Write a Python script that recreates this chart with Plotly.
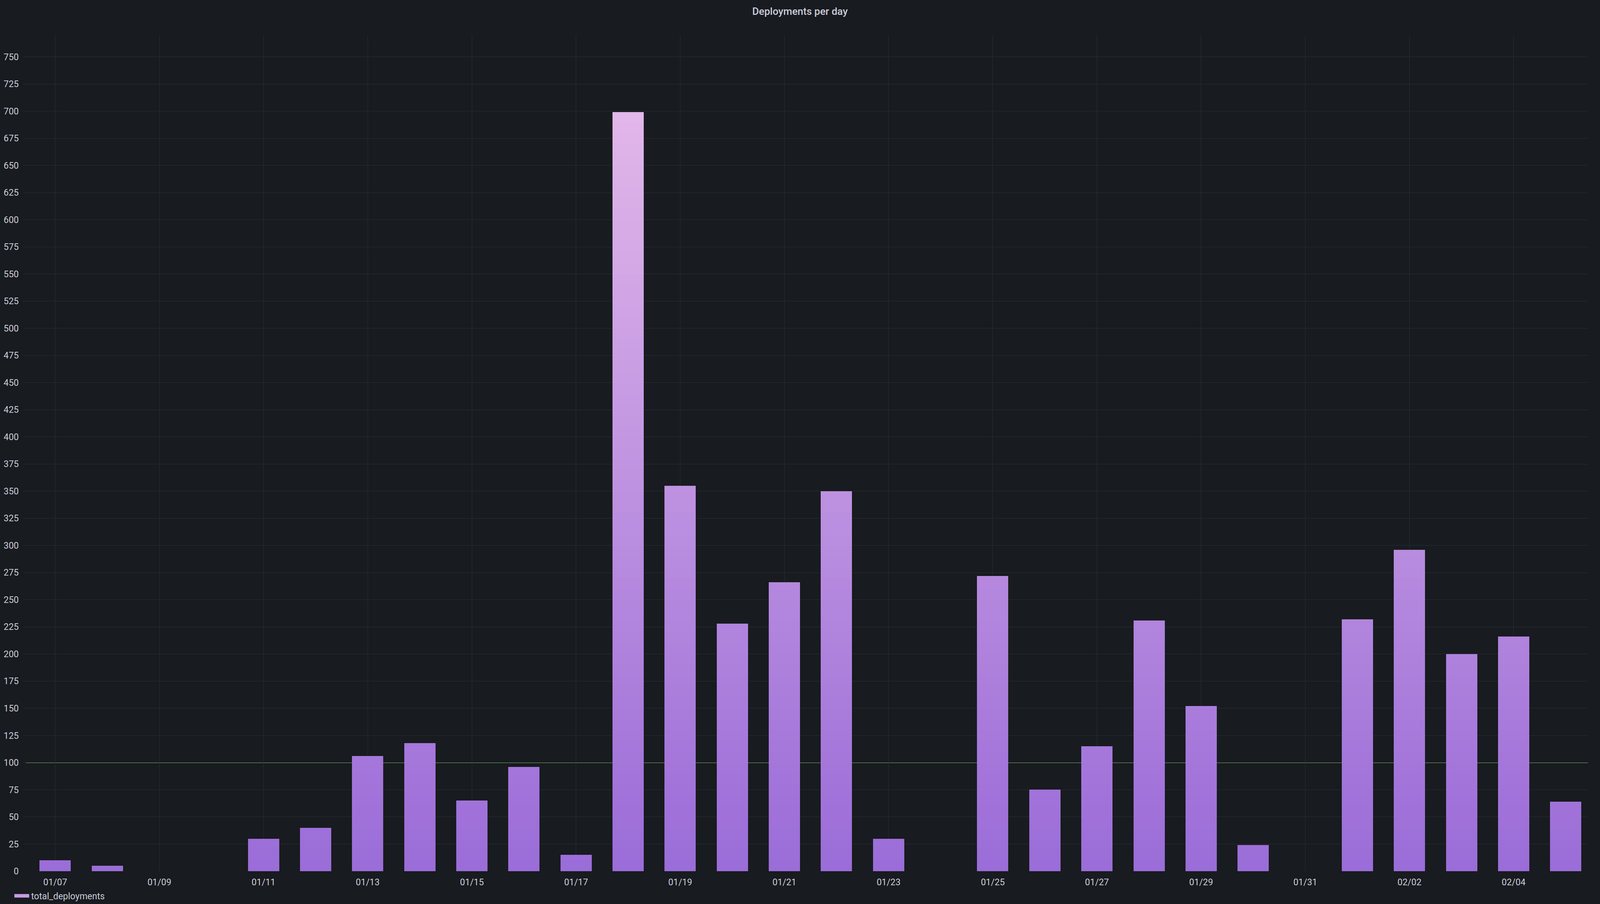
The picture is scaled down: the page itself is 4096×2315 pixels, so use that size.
import pandas as pd
import plotly.graph_objects as go

# ---- data ----
DAYS = ["2025-01-07", "2025-01-08", "2025-01-09", "2025-01-10", "2025-01-11",
        "2025-01-12", "2025-01-13", "2025-01-14", "2025-01-15", "2025-01-16",
        "2025-01-17", "2025-01-18", "2025-01-19", "2025-01-20", "2025-01-21",
        "2025-01-22", "2025-01-23", "2025-01-24", "2025-01-25", "2025-01-26",
        "2025-01-27", "2025-01-28", "2025-01-29", "2025-01-30", "2025-01-31",
        "2025-02-01", "2025-02-02", "2025-02-03", "2025-02-04", "2025-02-05"]
TOTAL_DEPLOYMENTS = [10, 5, 0, 0, 30, 40, 106, 118, 65, 96,
                     15, 699, 355, 228, 266, 350, 30, 0, 272, 75,
                     115, 231, 152, 24, 0, 232, 296, 200, 216, 64]
SERIES_NAME = "total_deployments"
THRESHOLD = 100
TITLE = "Deployments per day"

# ---- styling ----
BG = "#181b1f"
GRID = "#2a2d32"
TEXT = "#ccccdc"
FONT = "Roboto"
C_LOW = (154, 108, 216)
C_HIGH = (226, 183, 233)
BAND = 10
BAR_WIDTH_MS = 0.6 * 86400000

x = pd.to_datetime(DAYS)
vmax = max(TOTAL_DEPLOYMENTS)

fig = go.Figure()

# gradient bars: stack of value bands coloured by absolute value
lo = 0
while lo < vmax:
    seg = [min(max(v - lo, 0), BAND) for v in TOTAL_DEPLOYMENTS]
    t = min((lo + BAND / 2) / vmax, 1.0)
    col = tuple(round(a + (b - a) * t) for a, b in zip(C_LOW, C_HIGH))
    fig.add_trace(go.Bar(
        x=x, y=seg, width=BAR_WIDTH_MS,
        marker=dict(color="rgb(%d,%d,%d)" % col, line=dict(width=0)),
        showlegend=False, hoverinfo="skip",
    ))
    lo += BAND

# legend entry
fig.add_trace(go.Scatter(
    x=[None], y=[None], mode="lines", name=SERIES_NAME,
    line=dict(color="#c89de4", width=9),
))

fig.add_shape(type="line", xref="paper", yref="y", x0=0.002, x1=1, y0=THRESHOLD, y1=THRESHOLD,
              line=dict(color="#73bf69", width=2), opacity=0.85, layer="between")

fig.update_layout(
    width=4096, height=2315,
    paper_bgcolor=BG, plot_bgcolor=BG,
    barmode="stack", bargap=0,
    margin=dict(l=59, r=31, t=90, b=84, autoexpand=False),
    font=dict(family=FONT, color=TEXT, size=23),
    title=dict(text=TITLE, x=0.5, xref="container", xanchor="center",
               y=1 - 29 / 2315, yref="container", yanchor="middle",
               font=dict(family=FONT, size=26, color=TEXT, weight=500)),
    showlegend=True,
    legend=dict(x=-0.0068, xanchor="left", y=21 / 2315, yref="container", yanchor="middle",
                orientation="h", bgcolor="rgba(0,0,0,0)", itemwidth=38,
                font=dict(family=FONT, size=23, color=TEXT)),
)

fig.update_xaxes(
    type="date",
    range=["2025-01-06 09:11", "2025-02-05 10:13"],
    tick0="2025-01-07", dtick=2 * 86400000, tickformat="%m/%d",
    showgrid=True, gridcolor=GRID, gridwidth=1,
    zeroline=False, showline=False, ticks="",
    ticklabelstandoff=12,
    tickfont=dict(family=FONT, size=23, color=TEXT),
)
fig.update_yaxes(
    range=[0, 770], tick0=0, dtick=25,
    showgrid=True, gridcolor=GRID, gridwidth=1,
    zeroline=False, showline=False, ticks="",
    ticklabelstandoff=10,
    tickfont=dict(family=FONT, size=23, color=TEXT),
)

fig.write_html(
    "out.html",
    config={"displayModeBar": False},
    post_script="document.body.style.margin='0';document.body.style.background='#181b1f';"
                "document.documentElement.style.background='#181b1f';",
)
